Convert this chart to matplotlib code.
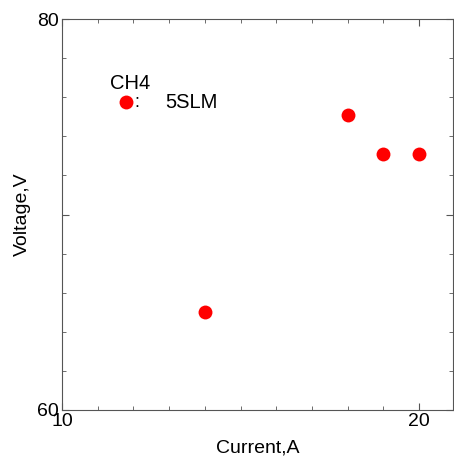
import matplotlib.pyplot as plt
from matplotlib.ticker import MultipleLocator, FixedLocator

plt.rcParams['font.family'] = ['Liberation Sans', 'DejaVu Sans']

# data
current = [14, 18, 19, 20]
voltage = [65.0, 75.1, 73.1, 73.1]
legend_x = 11.8
legend_y = 75.75

fig = plt.figure(figsize=(4.54, 4.57), dpi=100)
ax = fig.add_axes([62 / 454, 47 / 457, 391 / 454, 391 / 457])

ax.plot(current, voltage, 'o', color='red', markersize=10, markeredgewidth=0)
ax.plot([legend_x], [legend_y], 'o', color='red', markersize=10, markeredgewidth=0)
ax.text(legend_x + 0.1, legend_y + 0.45, 'CH4', ha='center', va='bottom', fontsize=14.5)
ax.text(legend_x + 0.3, legend_y, ':', ha='center', va='center', fontsize=13)
ax.text(12.9, legend_y, '5SLM', ha='left', va='center', fontsize=14.5)

ax.set_xlim(10, 20.95)
ax.set_ylim(60, 80)
ax.xaxis.set_major_locator(FixedLocator([10, 20]))
ax.xaxis.set_minor_locator(MultipleLocator(1))
ax.yaxis.set_major_locator(FixedLocator([60, 70, 80]))
ax.yaxis.set_minor_locator(MultipleLocator(2))
ax.set_yticklabels(['60', '', '80'])

ax.tick_params(which='both', direction='in', top=True, right=True,
               color='#555555', labelsize=14, pad=2)
ax.tick_params(which='major', length=5)
ax.tick_params(which='minor', length=3)
for s in ax.spines.values():
    s.set_color('#555555')

ax.set_xlabel('Current,A', fontsize=14, labelpad=7)
ax.set_ylabel('Voltage,V', fontsize=14, labelpad=5)

fig.savefig('out.png', dpi=100)
